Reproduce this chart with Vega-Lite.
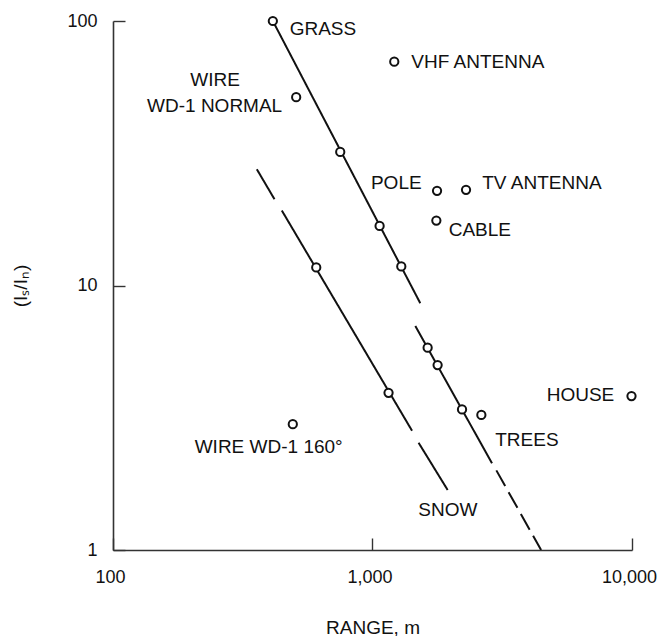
{
  "$schema": "https://vega.github.io/schema/vega-lite/v6.json",
  "width": 519,
  "height": 529,
  "autosize": "none",
  "padding": {"left": 113, "top": 21, "right": 27, "bottom": 86},
  "background": "white",
  "config": {
    "view": {"stroke": null},
    "font": "Liberation Sans",
    "axis": {
      "grid": false,
      "labelFlush": false,
      "labelOverlap": false,
      "domainColor": "#333333",
      "domainWidth": 1.6,
      "tickColor": "#333333",
      "tickWidth": 1.4,
      "tickSize": -12,
      "labelColor": "#111111",
      "labelFont": "Liberation Sans",
      "labelFontSize": 18,
      "labelFontWeight": "normal",
      "titleColor": "#111111",
      "titleFont": "Liberation Sans",
      "titleFontSize": 19,
      "titleFontWeight": "normal"
    }
  },
  "datasets": {
    "points": [
      {"name": "GRASS", "range": 413, "ratio": 100},
      {"name": "WIRE WD-1 NORMAL", "range": 508, "ratio": 51.5},
      {"name": "VHF ANTENNA", "range": 1213, "ratio": 70.2},
      {"name": "grass fit", "range": 751, "ratio": 32.0},
      {"name": "grass fit", "range": 1065, "ratio": 16.8},
      {"name": "grass fit", "range": 1291, "ratio": 11.8},
      {"name": "trees fit", "range": 1631, "ratio": 5.82},
      {"name": "trees fit", "range": 1782, "ratio": 5.0},
      {"name": "trees fit", "range": 2213, "ratio": 3.4},
      {"name": "POLE", "range": 1773, "ratio": 22.8},
      {"name": "TV ANTENNA", "range": 2293, "ratio": 23.0},
      {"name": "CABLE", "range": 1762, "ratio": 17.6},
      {"name": "TREES", "range": 2627, "ratio": 3.24},
      {"name": "HOUSE", "range": 9955, "ratio": 3.82},
      {"name": "WIRE WD-1 160°", "range": 493, "ratio": 2.99},
      {"name": "snow fit", "range": 607, "ratio": 11.7},
      {"name": "snow fit", "range": 1153, "ratio": 3.93}
    ],
    "lines": [
      {"seg": "grass", "style": "solid", "range": 413, "ratio": 100},
      {"seg": "grass", "style": "solid", "range": 1528, "ratio": 8.57},
      {"seg": "trees", "style": "solid", "range": 1462, "ratio": 7.03},
      {"seg": "trees", "style": "solid", "range": 2888, "ratio": 2.127},
      {"seg": "trees tail", "style": "dashed", "range": 3001, "ratio": 2.0},
      {"seg": "trees tail", "style": "dashed", "range": 4464, "ratio": 1.0},
      {"seg": "snow a", "style": "solid", "range": 358.4, "ratio": 27.5},
      {"seg": "snow a", "style": "solid", "range": 419, "ratio": 21.2},
      {"seg": "snow b", "style": "solid", "range": 447.4, "ratio": 19.2},
      {"seg": "snow b", "style": "solid", "range": 1420, "ratio": 2.825},
      {"seg": "snow c", "style": "solid", "range": 1505, "ratio": 2.545},
      {"seg": "snow c", "style": "solid", "range": 1948, "ratio": 1.686}
    ],
    "labels": [
      {"text": "GRASS", "range": 644, "ratio": 92.9},
      {"text": "WIRE", "range": 247.5, "ratio": 59.8},
      {"text": "WD-1 NORMAL", "range": 246.4, "ratio": 47.7},
      {"text": "VHF ANTENNA", "range": 2547, "ratio": 70.0},
      {"text": "POLE", "range": 1235, "ratio": 24.4},
      {"text": "TV ANTENNA", "range": 4496, "ratio": 24.4},
      {"text": "CABLE", "range": 2593, "ratio": 16.2},
      {"text": "HOUSE", "range": 6330, "ratio": 3.855},
      {"text": "TREES", "range": 3936, "ratio": 2.606},
      {"text": "SNOW", "range": 1951, "ratio": 1.416},
      {"text": "WIRE WD-1 160°", "range": 398, "ratio": 2.451}
    ]
  },
  "encoding": {
    "x": {
      "field": "range",
      "type": "quantitative",
      "scale": {"type": "log", "domain": [100, 10000]},
      "axis": {
        "orient": "bottom",
        "values": [100, 1000, 10000],
        "format": ",d",
        "labelPadding": 30,
        "labelOffset": -3,
        "title": "RANGE, m",
        "titlePadding": 32
      }
    },
    "y": {
      "field": "ratio",
      "type": "quantitative",
      "scale": {"type": "log", "domain": [1, 100]},
      "axis": {
        "orient": "left",
        "values": [1, 10, 100],
        "format": "d",
        "labelPadding": 28,
        "title": "(Iₛ/Iₙ)",
        "titlePadding": 36
      }
    }
  },
  "layer": [
    {
      "data": {"name": "lines"},
      "mark": {"type": "line", "color": "#111111", "strokeWidth": 2, "clip": true},
      "encoding": {
        "detail": {"field": "seg"},
        "strokeDash": {
          "field": "style",
          "type": "nominal",
          "scale": {"domain": ["solid", "dashed"], "range": [[1, 0], [18, 7]]},
          "legend": null
        }
      }
    },
    {
      "data": {"name": "points"},
      "mark": {"type": "point", "shape": "circle", "filled": false, "stroke": "#111111", "strokeWidth": 2, "size": 68, "opacity": 1, "fill": "white", "fillOpacity": 1}
    },
    {
      "data": {"name": "labels"},
      "mark": {"type": "text", "font": "Liberation Sans", "fontSize": 19, "color": "#111111", "align": "center", "baseline": "middle"},
      "encoding": {
        "text": {"field": "text"}
      }
    }
  ]
}
